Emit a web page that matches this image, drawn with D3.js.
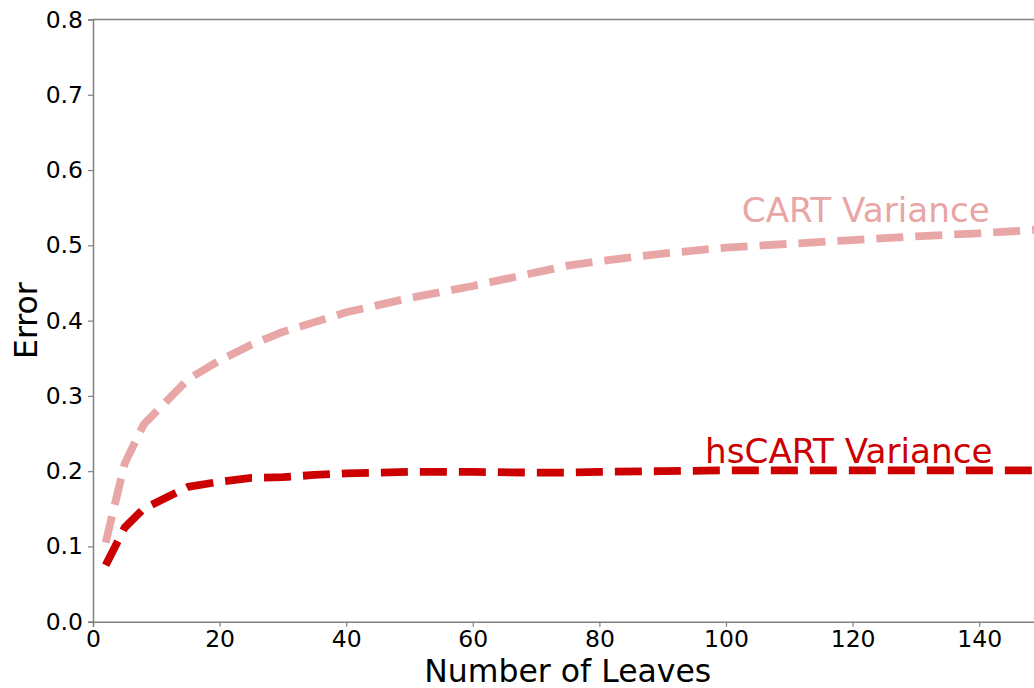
<!DOCTYPE html>
<html>
<head>
<meta charset="utf-8">
<script src="https://cdn.jsdelivr.net/npm/d3@7"></script>
<style>
  body { margin: 0; background: #fff; }
  svg { display: block; font-family: "DejaVu Sans", sans-serif; }
</style>
</head>
<body>
<div id="chart"></div>
<script>
// number of leaves
var leaves = [2, 5, 8, 15, 20, 25, 30, 35, 40, 50, 60, 70, 75, 80, 90, 100, 110, 120, 130, 140, 150];
// error curves
var cartVariance = [0.105, 0.21, 0.262, 0.322, 0.347, 0.368, 0.385, 0.398, 0.411, 0.430, 0.446, 0.464, 0.473, 0.479, 0.489, 0.497, 0.502, 0.507, 0.512, 0.516, 0.521];
var hsCartVariance = [0.075, 0.125, 0.150, 0.179, 0.186, 0.191, 0.192, 0.195, 0.197, 0.199, 0.199, 0.198, 0.198, 0.199, 0.200, 0.201, 0.201, 0.201, 0.201, 0.201, 0.201];
var xTicks = [0, 20, 40, 60, 80, 100, 120, 140];
var yTicks = [0, 0.1, 0.2, 0.3, 0.4, 0.5, 0.6, 0.7, 0.8];

var W = 1034, H = 688;
var margin = {top: 19.5, left: 93, bottom: 66.3};
var plotW = 150 * 6.33, plotH = H - margin.top - margin.bottom;

var svg = d3.select("#chart").append("svg")
  .attr("width", W).attr("height", H);

var x = d3.scaleLinear().domain([0, 150]).range([margin.left, margin.left + plotW]);
var y = d3.scaleLinear().domain([0, 0.8]).range([H - margin.bottom, margin.top]);

var series = [
  {name: "CART Variance", values: cartVariance, color: "#e9a6a6", lx: 102.5, ly: 0.531},
  {name: "hsCART Variance", values: hsCartVariance, color: "#cc0000", lx: 96.7, ly: 0.211}
];

var line = d3.line()
  .x(function(d, i) { return x(leaves[i]); })
  .y(function(d) { return y(d); });

series.forEach(function(s) {
  svg.append("path")
    .datum(s.values)
    .attr("d", line)
    .attr("fill", "none")
    .attr("stroke", s.color)
    .attr("stroke-width", 7.8)
    .attr("stroke-dasharray", "27,12")
    .attr("stroke-linejoin", "round");

  svg.append("text")
    .attr("x", x(s.lx))
    .attr("y", y(s.ly))
    .attr("fill", s.color)
    .style("font-size", "34.2px")
    .text(s.name);
});

// axes
var gx = svg.append("g")
  .attr("transform", "translate(0," + y(0) + ")")
  .call(d3.axisBottom(x).tickValues(xTicks).tickSize(5).tickPadding(4).tickFormat(d3.format("d")));
var gy = svg.append("g")
  .attr("transform", "translate(" + x(0) + ",0)")
  .call(d3.axisLeft(y).tickValues(yTicks).tickSize(5).tickPadding(5).tickFormat(d3.format(".1f")));

[gx, gy].forEach(function(g) {
  g.select(".domain").attr("stroke", "#808080").attr("stroke-width", 1.5);
  g.selectAll(".tick line").attr("stroke", "#808080").attr("stroke-width", 1.2);
  g.selectAll(".tick text").attr("fill", "#000").style("font-size", "23.5px").style("font-family", "DejaVu Sans");
});

// top spine
svg.append("line")
  .attr("x1", x(0)).attr("x2", x(150))
  .attr("y1", y(0.8)).attr("y2", y(0.8))
  .attr("stroke", "#808080").attr("stroke-width", 1.5);

// axis labels
svg.append("text")
  .attr("x", (x(0) + x(150)) / 2)
  .attr("y", 682)
  .attr("text-anchor", "middle")
  .style("font-size", "31.5px")
  .text("Number of Leaves");

svg.append("text")
  .attr("transform", "translate(37," + y(0.4) + ") rotate(-90)")
  .attr("text-anchor", "middle")
  .style("font-size", "31.5px")
  .text("Error");
</script>
</body>
</html>
